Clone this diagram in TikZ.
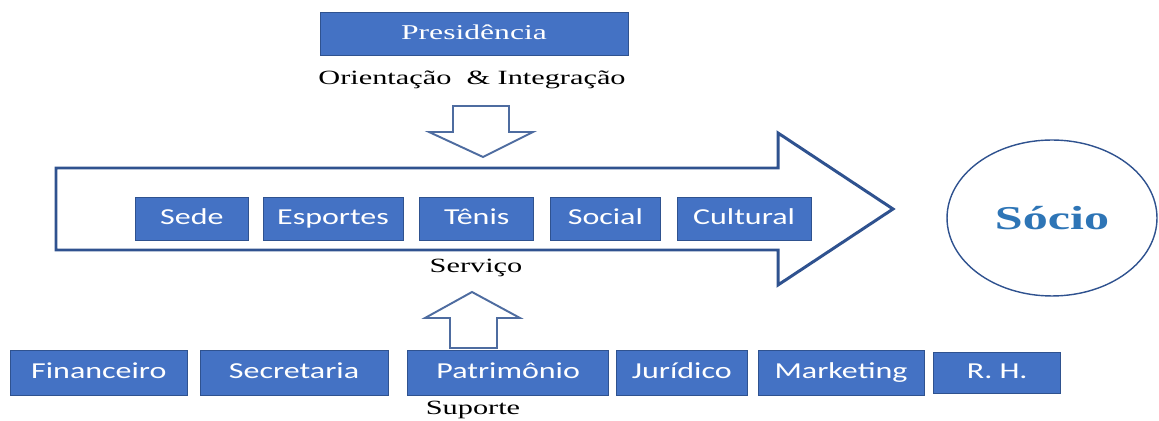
\documentclass[tikz,border=0pt]{standalone}
\usepackage{fontspec}
\setmainfont{Liberation Serif}
\setsansfont{Carlito}
\usetikzlibrary{positioning, shapes.geometric}
\definecolor{boxblue}{HTML}{4472C4}
\definecolor{edgeblue}{HTML}{2F528F}
\definecolor{socioblue}{HTML}{2E75B6}
\newcommand{\serifwide}[1]{\scalebox{1.5}[1]{#1}}
\newcommand{\sanswide}[1]{\scalebox{1.4}[1]{#1}}
\tikzset{
    x=0.02cm, y=-0.02cm, % one unit is one pixel of the reference
    unit/.style={draw=edgeblue, fill=boxblue, text=white, inner sep=0pt,
        text height=1.45ex, text depth=0ex,
        font=\sffamily\fontsize{13}{15}\selectfont, minimum height=0.86cm}, % blue department box
    caption/.style={font=\fontsize{11.5}{13}\selectfont}, % label under a box
    hollow/.style={draw=edgeblue!85, line width=1.1pt, fill=white}, % outlined arrow
}
\begin{document}
\begin{tikzpicture}
\useasboundingbox (0,0) rectangle (1159,421);
% top
\node[unit, font=\fontsize{12}{14}\selectfont, minimum width=6.16cm] (pres) at (474,33.5) {\serifwide{Presidência}};
\node[caption] (orient) at (472,80) {\serifwide{Orientação\ \ \& Integração}};
\draw[hollow] (453,106) -- (509,106) -- (509,132) -- (533,132) -- (483,157)
    -- (429,132) -- (453,132) -- cycle;
% service arrow
\draw[draw=edgeblue, line width=1.7pt, line join=miter] (56,168) -- (778,168) -- (778,133)
    -- (893,209) -- (778,285) -- (778,250) -- (56,250) -- cycle;
\node[unit, anchor=north west, minimum width=2.26cm] (sede) at (135,197) {\sanswide{Sede}};
\node[unit, right=0.28cm of sede, minimum width=2.8cm]  (esportes) {\sanswide{Esportes}};
\node[unit, right=0.32cm of esportes, minimum width=2.28cm] (tenis) {\sanswide{Tênis}};
\node[unit, right=0.32cm of tenis, minimum width=2.2cm] (social) {\sanswide{Social}};
\node[unit, right=0.32cm of social, minimum width=2.68cm] (cultural) {\sanswide{Cultural}};
\node[caption] (servico) at (476,268) {\serifwide{Serviço}};
\node[ellipse, draw=edgeblue, line width=0.8pt, minimum width=4.2cm, minimum height=3.12cm,
    text=socioblue, font=\bfseries\fontsize{19}{22}\selectfont] (socio) at (1052,218) {\serifwide{Sócio}};
% support
\draw[hollow] (472,292) -- (520,318) -- (497,318) -- (497,348) -- (450,348)
    -- (450,318) -- (425,318) -- cycle;
\node[unit, anchor=north west, minimum width=3.54cm, minimum height=0.9cm] (fin) at (10,350) {\sanswide{Financeiro}};
\node[unit, right=0.24cm of fin, minimum width=3.76cm, minimum height=0.9cm] (secr) {\sanswide{Secretaria}};
\node[unit, right=0.38cm of secr, minimum width=4.02cm, minimum height=0.9cm] (patr) {\sanswide{Patrimônio}};
\node[unit, right=0.14cm of patr, minimum width=2.62cm, minimum height=0.9cm] (jur) {\sanswide{Jurídico}};
\node[unit, right=0.2cm of jur, minimum width=3.32cm, minimum height=0.9cm] (mkt) {\sanswide{Marketing}};
\node[unit, right=0.18cm of mkt, minimum width=2.54cm, minimum height=0.82cm] (rh) {\sanswide{R. H.}};
\node[caption] (suporte) at (473,410) {\serifwide{Suporte}};
\end{tikzpicture}
\end{document}
